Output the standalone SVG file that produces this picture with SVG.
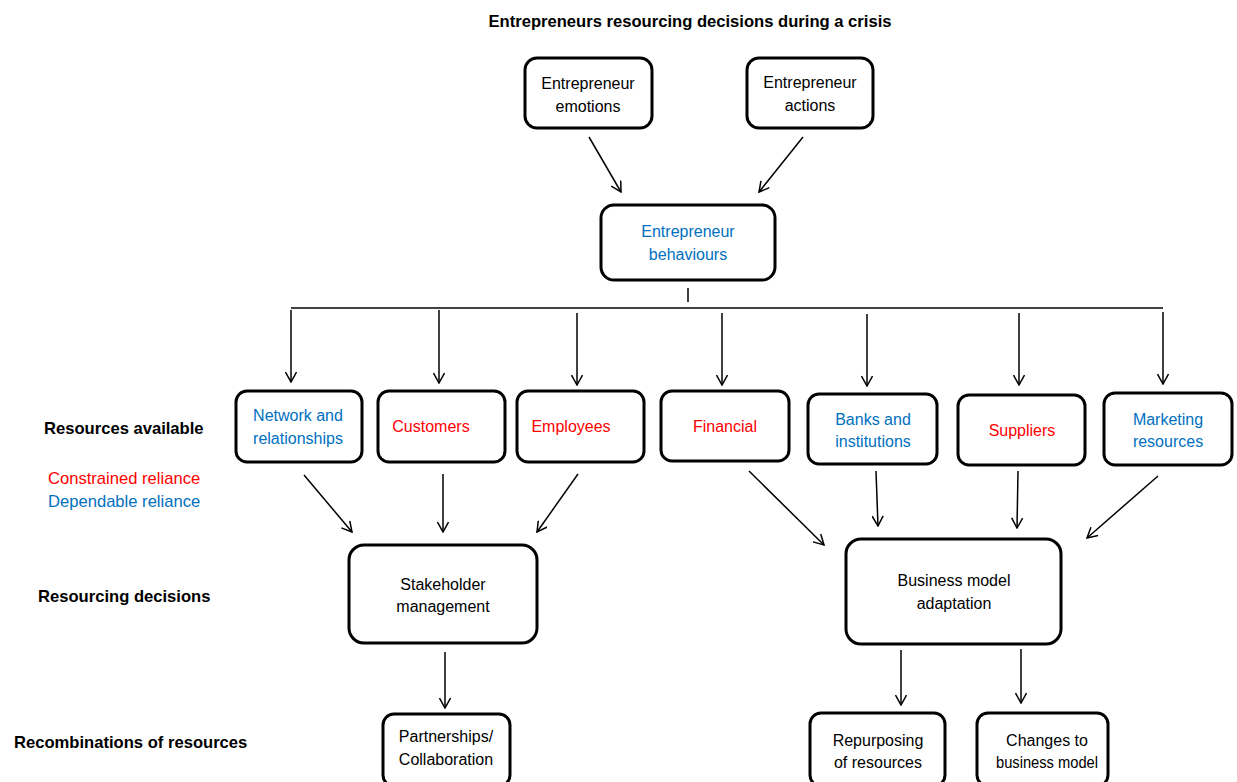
<svg xmlns="http://www.w3.org/2000/svg" width="1237" height="782" viewBox="0 0 1237 782">
<style>
.box{fill:#fff;stroke:#000;stroke-width:3}
.t{font-family:"Liberation Sans",Arial,sans-serif;font-size:16px;text-anchor:middle;fill:#000}
.b{fill:#0070C0}
.r{fill:#FF0000}
.lab{font-family:"Liberation Sans",Arial,sans-serif;font-size:16.6px;font-weight:bold;fill:#000}
.leg{font-family:"Liberation Sans",Arial,sans-serif;font-size:16.6px}
.c{stroke:#000;stroke-width:1.5;fill:none}
</style>
<defs>
<marker id="ah" viewBox="0 0 12 12" refX="11" refY="6" markerWidth="12" markerHeight="12" markerUnits="userSpaceOnUse" orient="auto">
<path d="M1,0.5 L11,6 L1,11.5" fill="none" stroke="#000" stroke-width="1.5"/>
</marker>
</defs>
<text class="lab" x="690" y="27" text-anchor="middle">Entrepreneurs resourcing decisions during a crisis</text>
<text class="lab" x="44" y="434">Resources available</text>
<text class="leg" x="48" y="484" fill="#FF0000">Constrained reliance</text>
<text class="leg" x="48" y="507" fill="#0070C0">Dependable reliance</text>
<text class="lab" x="38" y="602">Resourcing decisions</text>
<text class="lab" x="14" y="748">Recombinations of resources</text>

<g id="connectors">
<line class="c" x1="589" y1="137" x2="621" y2="192" marker-end="url(#ah)"/>
<line class="c" x1="803" y1="137" x2="759" y2="192" marker-end="url(#ah)"/>
<line class="c" x1="688" y1="288" x2="688" y2="302"/>
<line class="c" x1="291" y1="308" x2="1163" y2="308"/>
<line class="c" x1="291" y1="310" x2="291" y2="382" marker-end="url(#ah)"/>
<line class="c" x1="439" y1="310" x2="439" y2="383" marker-end="url(#ah)"/>
<line class="c" x1="577" y1="313" x2="577" y2="385" marker-end="url(#ah)"/>
<line class="c" x1="722" y1="313" x2="722" y2="385" marker-end="url(#ah)"/>
<line class="c" x1="867" y1="314" x2="867" y2="386" marker-end="url(#ah)"/>
<line class="c" x1="1019" y1="313" x2="1019" y2="385" marker-end="url(#ah)"/>
<line class="c" x1="1163" y1="312" x2="1163" y2="384" marker-end="url(#ah)"/>
<line class="c" x1="304" y1="475" x2="352" y2="532" marker-end="url(#ah)"/>
<line class="c" x1="443" y1="474" x2="443" y2="532" marker-end="url(#ah)"/>
<line class="c" x1="578" y1="474" x2="537" y2="532" marker-end="url(#ah)"/>
<line class="c" x1="749" y1="471" x2="824" y2="545" marker-end="url(#ah)"/>
<line class="c" x1="876" y1="471" x2="878" y2="526" marker-end="url(#ah)"/>
<line class="c" x1="1018" y1="471" x2="1017" y2="528" marker-end="url(#ah)"/>
<line class="c" x1="1158" y1="476" x2="1087" y2="538" marker-end="url(#ah)"/>
<line class="c" x1="445" y1="652" x2="445" y2="708" marker-end="url(#ah)"/>
<line class="c" x1="901" y1="650" x2="901" y2="705" marker-end="url(#ah)"/>
<line class="c" x1="1021" y1="649" x2="1021" y2="703" marker-end="url(#ah)"/>
</g>

<g id="emotions"><rect class="box" x="525" y="58" width="127" height="70" rx="12"/>
<text class="t" x="588" y="89">Entrepreneur</text><text class="t" x="588" y="112">emotions</text></g>
<g id="actions"><rect class="box" x="747" y="58" width="126" height="70" rx="12"/>
<text class="t" x="810" y="88">Entrepreneur</text><text class="t" x="810" y="111">actions</text></g>
<g id="behaviours"><rect class="box" x="601" y="205" width="174" height="75" rx="13"/>
<text class="t b" x="688" y="237">Entrepreneur</text><text class="t b" x="688" y="260">behaviours</text></g>

<g id="network"><rect class="box" x="236" y="391" width="126" height="71" rx="11"/>
<text class="t b" x="298" y="421">Network and</text><text class="t b" x="298" y="444">relationships</text></g>
<g id="customers"><rect class="box" x="378" y="391" width="127" height="71" rx="11"/>
<text class="t r" x="431" y="432">Customers</text></g>
<g id="employees"><rect class="box" x="517" y="391" width="127" height="71" rx="11"/>
<text class="t r" x="571" y="432">Employees</text></g>
<g id="financial"><rect class="box" x="661" y="391" width="128" height="70" rx="11"/>
<text class="t r" x="725" y="432">Financial</text></g>
<g id="banks"><rect class="box" x="808" y="394" width="129" height="70" rx="11"/>
<text class="t b" x="873" y="425">Banks and</text><text class="t b" x="873" y="447">institutions</text></g>
<g id="suppliers"><rect class="box" x="958" y="395" width="127" height="70" rx="11"/>
<text class="t r" x="1022" y="436">Suppliers</text></g>
<g id="marketing"><rect class="box" x="1104" y="393" width="128" height="72" rx="11"/>
<text class="t b" x="1168" y="425">Marketing</text><text class="t b" x="1168" y="447">resources</text></g>

<g id="stakeholder"><rect class="box" x="349" y="545" width="188" height="98" rx="15"/>
<text class="t" x="443" y="590">Stakeholder</text><text class="t" x="443" y="612">management</text></g>
<g id="bma"><rect class="box" x="846" y="539" width="215" height="105" rx="15"/>
<text class="t" x="954" y="586">Business model</text><text class="t" x="954" y="609">adaptation</text></g>

<g id="partnerships"><rect class="box" x="383" y="714" width="127" height="72" rx="11"/>
<text class="t" x="446" y="742">Partnerships/</text><text class="t" x="446" y="765">Collaboration</text></g>
<g id="repurposing"><rect class="box" x="810" y="713" width="135" height="73" rx="11"/>
<text class="t" x="878" y="746">Repurposing</text><text class="t" x="878" y="768">of resources</text></g>
<g id="changes"><rect class="box" x="977" y="713" width="131" height="73" rx="11"/>
<text class="t" x="1047" y="746">Changes to</text><text class="t" x="1047" y="768" textLength="102" lengthAdjust="spacingAndGlyphs">business model</text></g>
</svg>
